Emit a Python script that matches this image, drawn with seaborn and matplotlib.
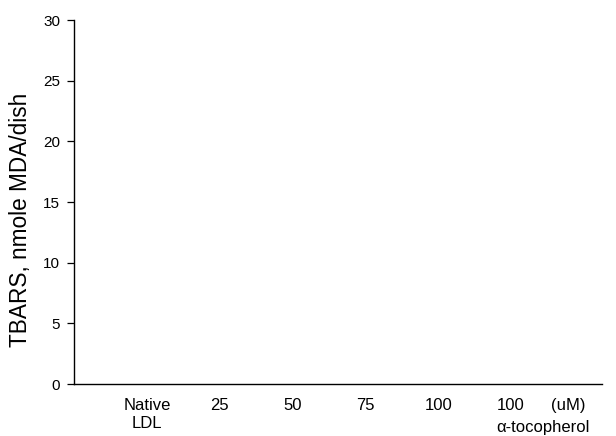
import matplotlib
matplotlib.use("Agg")
import matplotlib.pyplot as plt
import matplotlib.transforms as mtransforms
import seaborn as sns
import pandas as pd

categories = ["Native\nLDL", "25", "50", "75", "100", "100"]
tbars = [0.0, 0.0, 0.0, 0.0, 0.0, 0.0]
y_ticks = [0, 5, 10, 15, 20, 25, 30]

sns.set_theme(style="ticks")
plt.rcParams['font.family'] = ['Liberation Sans', 'DejaVu Sans']
plt.rcParams['text.color'] = 'black'
plt.rcParams['xtick.color'] = 'black'
plt.rcParams['ytick.color'] = 'black'
plt.rcParams['axes.labelcolor'] = 'black'

df = pd.DataFrame({"cat": list(range(len(categories))), "val": tbars})

fig = plt.figure(figsize=(6.16, 4.36), dpi=100)
ax = fig.add_axes([74/616, 1-384/436, (602-74)/616, (384-20)/436])
sns.barplot(data=df, x="cat", y="val", color="black", ax=ax, width=0.6)
ax.set_xlim(-1.0, 6.25)
ax.set_ylim(0, 30)
ax.set_yticks(y_ticks)
ax.set_yticklabels([str(t) for t in y_ticks], fontsize=11)
ax.set_xticks(range(len(categories)))
ax.set_xticklabels(categories, fontsize=12, linespacing=1.25)
ax.tick_params(axis="x", length=0, pad=10)
ax.tick_params(axis="y", length=5, width=0.9, direction="out", pad=5)
ax.set_xlabel("")
ax.set_ylabel("TBARS, nmole MDA/dish", fontsize=16.3)
ax.yaxis.set_label_coords(-(74-32)/528, 0.45)
for s in ["top", "right"]:
    ax.spines[s].set_visible(False)
for s in ["left", "bottom"]:
    ax.spines[s].set_linewidth(1.0)
    ax.spines[s].set_color("black")

xt = ax.get_xaxis_transform()
ax.text(5, 0, "(uM)",
        transform=xt + mtransforms.ScaledTranslation(40/100, -14/100, fig.dpi_scale_trans),
        fontsize=12, ha="left", va="top")
ax.text(5, 0, "α-tocopherol",
        transform=xt + mtransforms.ScaledTranslation(-15/100, -36/100, fig.dpi_scale_trans),
        fontsize=12, ha="left", va="top")

fig.savefig("out.png", dpi=100)
